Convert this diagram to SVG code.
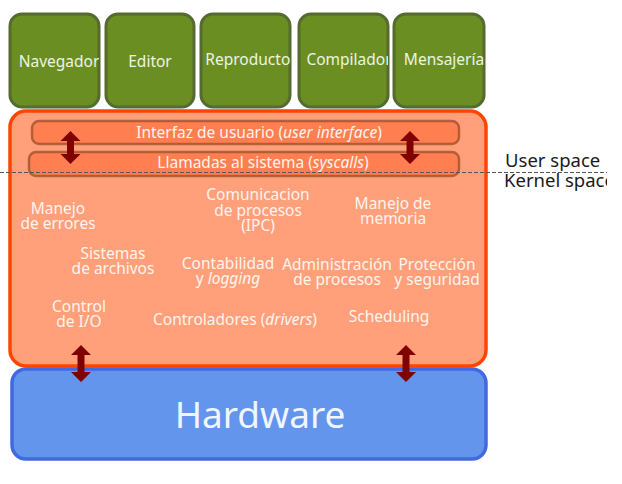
<svg xmlns="http://www.w3.org/2000/svg" width="622" height="484" viewBox="0 0 622 484">
<style>
.app{fill:#6b8e23;stroke:#556b2f;stroke-width:3}
.apptxt{font-family:"Noto Sans","Open Sans",sans-serif;font-size:15.5px;fill:#eef3e4;text-anchor:middle}
.bar{fill:#ff7f50;stroke:#a0522d;stroke-opacity:0.8;stroke-width:2.5}
.bartxt{font-family:"Noto Sans","Open Sans",sans-serif;font-size:15.5px;fill:#fff4ee;text-anchor:middle}
.ktxt{font-family:"Noto Sans","Open Sans",sans-serif;font-size:15.5px;fill:#fff4ee;text-anchor:middle}
.arr{fill:#800000}
.side{font-family:"Noto Sans","Open Sans",sans-serif;font-size:18.5px;fill:#1a1a1a}
</style>
<defs>
<clipPath id="c1"><rect x="10" y="14" width="89" height="93" rx="12"/></clipPath>
<clipPath id="c2"><rect x="106" y="14" width="88" height="93" rx="12"/></clipPath>
<clipPath id="c3"><rect x="201" y="14" width="89" height="93" rx="12"/></clipPath>
<clipPath id="c4"><rect x="299" y="14" width="89" height="93" rx="12"/></clipPath>
<clipPath id="c5"><rect x="394" y="14" width="90" height="93" rx="12"/></clipPath>
<clipPath id="cside"><rect x="490" y="140" width="117" height="60"/></clipPath>
</defs>
<g id="app-navegador"><rect class="app" x="10" y="14" width="89" height="93" rx="12"/><text class="apptxt" x="59" y="67" clip-path="url(#c1)">Navegador</text></g>
<g id="app-editor"><rect class="app" x="106" y="14" width="88" height="93" rx="12"/><text class="apptxt" x="150" y="67" clip-path="url(#c2)">Editor</text></g>
<g id="app-reproductor"><rect class="app" x="201" y="14" width="89" height="93" rx="12"/><text class="apptxt" x="251" y="65" clip-path="url(#c3)">Reproductor</text></g>
<g id="app-compilador"><rect class="app" x="299" y="14" width="89" height="93" rx="12"/><text class="apptxt" x="349" y="65" clip-path="url(#c4)">Compilador</text></g>
<g id="app-mensajeria"><rect class="app" x="394" y="14" width="90" height="93" rx="12"/><text class="apptxt" x="444" y="65" clip-path="url(#c5)">Mensajería</text></g>
<g id="kernel">
<rect x="10" y="111" width="476" height="255" rx="16" fill="#ffa07a" stroke="#ff4500" stroke-width="3.5"/>
<text class="ktxt" x="58" y="214">Manejo</text><text class="ktxt" x="58" y="229">de errores</text>
<text class="ktxt" x="258" y="200">Comunicacion</text><text class="ktxt" x="258" y="216">de procesos</text><text class="ktxt" x="258" y="231">(IPC)</text>
<text class="ktxt" x="393" y="209">Manejo de</text><text class="ktxt" x="393" y="224">memoria</text>
<text class="ktxt" x="113" y="259">Sistemas</text><text class="ktxt" x="113" y="274">de archivos</text>
<text class="ktxt" x="228" y="269">Contabilidad</text><text class="ktxt" x="228" y="284">y <tspan font-style="italic">logging</tspan></text>
<text class="ktxt" x="337" y="270">Administración</text><text class="ktxt" x="337" y="285">de procesos</text>
<text class="ktxt" x="437" y="270">Protección</text><text class="ktxt" x="437" y="285">y seguridad</text>
<text class="ktxt" x="79" y="312">Control</text><text class="ktxt" x="79" y="327">de I/O</text>
<text class="ktxt" x="235" y="325">Controladores (<tspan font-style="italic">drivers</tspan>)</text>
<text class="ktxt" x="389" y="322">Scheduling</text>
</g>
<g id="ui-bar"><rect class="bar" x="32" y="121" width="427" height="23" rx="7"/><text class="bartxt" x="259" y="138">Interfaz de usuario (<tspan font-style="italic">user interface</tspan>)</text></g>
<g id="syscall-bar"><rect class="bar" x="29" y="152" width="430" height="24" rx="7"/><text class="bartxt" x="263" y="168">Llamadas al sistema (<tspan font-style="italic">syscalls</tspan>)</text></g>
<g id="hardware">
<rect x="12" y="369" width="474" height="90" rx="14" fill="#6495ed" stroke="#4169e1" stroke-width="3.5"/>
<text x="260" y="428" font-family="Noto Sans, Open Sans, sans-serif" font-size="37" fill="#f0f6ff" text-anchor="middle">Hardware</text>
</g>
<g id="boundary">
<line x1="0" y1="172.5" x2="607" y2="172.5" stroke="#555" stroke-width="1" stroke-dasharray="4,2"/>
<g clip-path="url(#cside)"><text class="side" x="505" y="167">User space</text><text class="side" x="504" y="187">Kernel space</text></g>
</g>
<g id="connectors">
<path class="arr" d="M70.5,131 L80.5,141 L74,141 L74,154 L80.5,154 L70.5,164 L60.5,154 L67,154 L67,141 L60.5,141 Z"/>
<path class="arr" d="M410,131 L420,141 L413.5,141 L413.5,154 L420,154 L410,164 L400,154 L406.5,154 L406.5,141 L400,141 Z"/>
<path class="arr" d="M81,345 L91,355 L84.5,355 L84.5,372 L91,372 L81,382 L71,372 L77.5,372 L77.5,355 L71,355 Z"/>
<path class="arr" d="M406,345 L416,355 L409.5,355 L409.5,372 L416,372 L406,382 L396,372 L402.5,372 L402.5,355 L396,355 Z"/>
</g>
</svg>
